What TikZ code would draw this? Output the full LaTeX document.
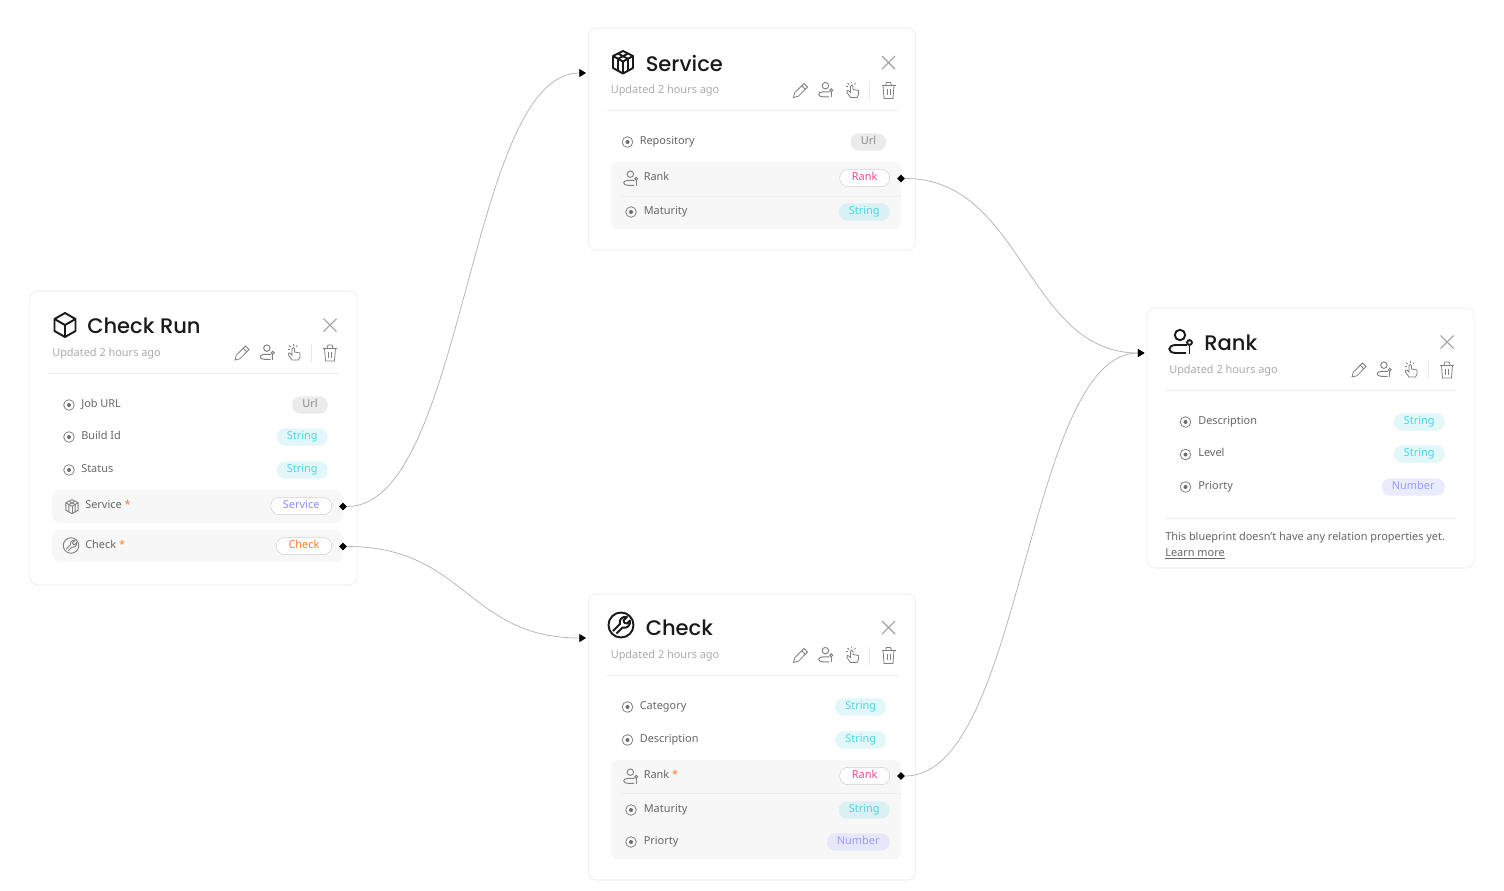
\documentclass[tikz,border=0pt]{standalone}
\usepackage{fontspec}
\setmainfont{Noto Sans}
\newfontfamily\titlefont{Poppins Medium}
\usetikzlibrary{shapes,arrows.meta,positioning}
\definecolor{cardedge}{HTML}{E8E8E8}
\definecolor{rowgrey}{HTML}{F7F7F7}
\definecolor{ruleline}{HTML}{EDEDED}
\definecolor{labelgrey}{HTML}{666666}
\definecolor{subgrey}{HTML}{ABABAB}
\definecolor{icongrey}{HTML}{808080}
\definecolor{closegrey}{HTML}{A0A0A0}
\definecolor{titleblack}{HTML}{1A1A1A}
\definecolor{curvegrey}{HTML}{B4B4B4}
\definecolor{stringfg}{HTML}{4DD6E4}
\definecolor{stringbg}{HTML}{E2F7FA}
\definecolor{stringdark}{HTML}{DAF1F3}
\definecolor{numberfg}{HTML}{9C9CFF}
\definecolor{numberbg}{HTML}{EBEBFE}
\definecolor{numberdark}{HTML}{E7E7FA}
\definecolor{urlfg}{HTML}{8A8A8A}
\definecolor{urlbg}{HTML}{EBEBEB}
\definecolor{rankfg}{HTML}{F0478F}
\definecolor{checkfg}{HTML}{FF7A2E}
\definecolor{servicefg}{HTML}{8C8CFF}
\tikzstyle{card} = [draw=cardedge, fill=white, rounded corners=6pt, minimum width=245.5pt, inner sep=0pt]
\tikzstyle{rowbg} = [fill=rowgrey, rounded corners=6pt, minimum width=218pt, inner sep=0pt]
\tikzstyle{proptext} = [anchor=west, inner sep=0pt, text=labelgrey, font=\fontsize{8.2}{10}\selectfont, text height=5.7pt, text depth=2.5pt]
\tikzstyle{pill} = [anchor=east, rounded corners=6.3pt, inner xsep=7.6pt, inner ysep=0pt, minimum height=13pt, font=\fontsize{8.2}{10}\selectfont, text height=5.7pt, text depth=2.5pt]
\tikzstyle{pillstring} = [pill, fill=stringbg, text=stringfg]
\tikzstyle{pillstringd} = [pill, fill=stringdark, text=stringfg]
\tikzstyle{pillnumber} = [pill, fill=numberbg, text=numberfg]
\tikzstyle{pillnumberd} = [pill, fill=numberdark, text=numberfg]
\tikzstyle{pillurl} = [pill, fill=urlbg, text=urlfg]
\tikzstyle{pillrel} = [pill, fill=white, draw=black!18, inner xsep=9.2pt]
\tikzstyle{port} = [diamond, fill=black, inner sep=0pt, minimum size=6pt]
\tikzstyle{line} = [draw=curvegrey, line width=0.55pt, -{Triangle[length=5pt,width=6pt,black]}]
\tikzstyle{rowicon} = [color=icongrey, scale=0.62, line width=0.7pt]
\tikzstyle{toolicon} = [color=icongrey, line width=0.6pt]
\tikzstyle{bigicon} = [color=titleblack, line width=1.45pt, line join=round]
\tikzstyle{hrule} = [draw=ruleline, line width=0.75pt]
\tikzset{
	pics/radio/.style={code={
		\draw [color=icongrey, line width=0.6pt] (0,0) circle (5.3);
		\fill [color=icongrey!85!black] (0,0) circle (2);
	}},
	pics/cube/.style={code={
		\draw (0,-12) -- (10.5,-6) -- (10.5,6) -- (0,12) -- (-10.5,6) -- (-10.5,-6) -- cycle;
		\draw (-10.5,-6) -- (0,0) -- (10.5,-6);
		\draw (0,0) -- (0,12);
	}},
	pics/boxes/.style={code={
		\draw (0,-11) -- (10,-6) -- (10,6) -- (0,11.5) -- (-10,6) -- (-10,-6) -- cycle;
		\draw (-10,-6) -- (0,-0.5) -- (10,-6);
		\draw (0,-0.5) -- (0,11.5);
		\draw (-5,-8.5) -- (5,-3.2) -- (5,8.8);
		\draw (5,-8.5) -- (-5,-3.2) -- (-5,8.8);
	}},
	pics/wrench/.style={code={
		\draw (0,0) circle (12.5);
		\draw (-8,6) -- (-1,-1) .. controls (-2.5,-5) and (1,-9) .. (6,-8) -- (2.5,-4.5) -- (3.5,-2) -- (6,-1.5) -- (9,-4.5) .. controls (10,0) and (6,4) .. (1.5,2.5) -- (-4.5,8.5);
	}},
	pics/personkey/.style={code={
		\draw (-1,-7) circle (5.2);
		\draw (6,3) -- (-5,3) .. controls (-14,3) and (-14,11) .. (-5,11) -- (5,11);
		\draw (8.5,0.5) circle (2.4);
		\draw (8.5,3) -- (8.5,11.5);
	}},
	pics/pencil/.style={code={
		\draw (-7,7) -- (-5.8,2.2) -- (3.5,-7) -- (7,-3.5) -- (-2.2,5.8) -- cycle;
		\draw (1.2,-4.8) -- (4.8,-1.2);
	}},
	pics/clickhand/.style={code={
		\draw (-1.5,8) -- (-5,3) .. controls (-6,1) and (-4,0) .. (-3,1.5) -- (-1.5,3) -- (-1.5,-3) .. controls (-1.5,-5) and (1,-5) .. (1,-3) -- (1,0) -- (6.5,1) -- (6.5,5) -- (5,8) -- cycle;
		\draw (-6,-3) -- (-4,-3);
		\draw (-4.5,-6.5) -- (-3,-5);
		\draw (-0.5,-8) -- (-0.5,-6.5);
		\draw (3.5,-6.5) -- (2.5,-5);
	}},
	pics/trash/.style={code={
		\draw (-7,-5) -- (7,-5);
		\draw (-3,-5) -- (-2,-8) -- (2,-8) -- (3,-5);
		\draw (-5.5,-5) -- (-4.5,8) -- (4.5,8) -- (5.5,-5);
		\draw (-1.5,-1.5) -- (-1.5,4.5);
		\draw (1.5,-1.5) -- (1.5,4.5);
	}},
	% head of a card, (0,0) is the top left corner of the card
	pics/cardhead/.style={code={
		\node [anchor=west, inner sep=0pt, text=titleblack, font=\titlefont\fontsize{15.8}{20}\selectfont] (title) at (57,34.5) {#1};
		\node [anchor=west, inner sep=0pt, text=subgrey, font=\fontsize{8.2}{10}\selectfont] (updated) at (22,62.5) {Updated 2 hours ago};
		\draw [color=closegrey, line width=0.8pt] (293.5,27.5) -- (306.5,40.5);
		\draw [color=closegrey, line width=0.8pt] (306.5,27.5) -- (293.5,40.5);
		\pic [toolicon] at (212,62) {pencil};
		\pic [rowicon] at (237.5,61.5) {personkey};
		\pic [toolicon] at (263.5,61) {clickhand};
		\draw [color=cardedge, line width=0.75pt] (281,53) -- (281,71);
		\pic [toolicon] at (300,62) {trash};
		\draw [hrule] (18,82) -- (309,82);
	}}
}
\begin{document}
\begin{tikzpicture}[x=0.75pt, y=-0.75pt]
	\useasboundingbox [fill=white] (0,0) rectangle (1504,890);

	% cards
	\node [card, minimum height=220.5pt] (checkrun) at (193.5,438) {};
	\node [card, minimum height=166.5pt] (service) at (752,139) {};
	\node [card, minimum height=214.5pt] (check) at (752,737) {};
	\node [card, minimum height=195pt] (rank) at (1310.5,438) {};

	\pic (runhead) at (30,291) {cardhead={Check Run}};
	\pic (svchead) at (588.5,28.5) {cardhead={Service}};
	\pic (chkhead) at (588.5,593.5) {cardhead={Check}};
	\pic (rnkhead) at (1147,308) {cardhead={Rank}};

	\pic [bigicon] at (65,325) {cube};
	\pic [bigicon] at (623,62) {boxes};
	\pic [bigicon] at (621,625) {wrench};
	\pic [bigicon] at (1181,342) {personkey};

	% Check Run rows
	\node [rowbg, minimum height=24.75pt] (runservicebg) at (197.5,506.5) {};
	\node [rowbg, minimum height=24pt] (runcheckbg) at (197.5,546) {};
	\pic at (69,405) {radio};
	\node [proptext] (joburl) at (81,405) {Job URL};
	\node [pillurl] (joburltype) at (328,405) {Url};
	\pic at (69,437) {radio};
	\node [proptext] (buildid) at (81,437) {Build Id};
	\node [pillstring] (buildidtype) at (328,437) {String};
	\pic at (69,470) {radio};
	\node [proptext] (status) at (81,470) {Status};
	\node [pillstring] (statustype) at (328,470) {String};
	\pic [rowicon] at (72,506.5) {boxes};
	\node [proptext] (runservice) at (85,506) {Service {\color{checkfg} *}};
	\node [pillrel, text=servicefg] (runservicetype) at (332,506) {Service};
	\pic [rowicon] at (71,545.5) {wrench};
	\node [proptext] (runcheck) at (85,546) {Check {\color{checkfg} *}};
	\node [pillrel, text=checkfg] (runchecktype) at (332,546) {Check};

	% Service rows
	\node [rowbg, minimum height=50.25pt] (svcbg) at (756,195.5) {};
	\draw [hrule] (621,196) -- (901,196);
	\pic at (627.5,142) {radio};
	\node [proptext] (repository) at (639.5,142) {Repository};
	\node [pillurl] (repositorytype) at (886.5,142) {Url};
	\pic [rowicon] at (631,178.5) {personkey};
	\node [proptext] (svcrank) at (643.5,178) {Rank};
	\node [pillrel, text=rankfg] (svcranktype) at (890,178) {Rank};
	\pic at (631,212) {radio};
	\node [proptext] (svcmaturity) at (643.5,212) {Maturity};
	\node [pillstringd] (svcmaturitytype) at (890,212) {String};

	% Check rows
	\node [rowbg, minimum height=74.25pt] (chkbg) at (756,809.5) {};
	\draw [hrule] (621,793) -- (901,793);
	\pic at (627.5,707) {radio};
	\node [proptext] (category) at (639.5,707) {Category};
	\node [pillstring] (categorytype) at (886.5,707) {String};
	\pic at (627.5,740) {radio};
	\node [proptext] (chkdescription) at (639.5,740) {Description};
	\node [pillstring] (chkdescriptiontype) at (886.5,740) {String};
	\pic [rowicon] at (631,776.5) {personkey};
	\node [proptext] (chkrank) at (643.5,776) {Rank {\color{checkfg} *}};
	\node [pillrel, text=rankfg] (chkranktype) at (890,776) {Rank};
	\pic at (631,810) {radio};
	\node [proptext] (chkmaturity) at (643.5,810) {Maturity};
	\node [pillstringd] (chkmaturitytype) at (890,810) {String};
	\pic at (631,842) {radio};
	\node [proptext] (chkpriorty) at (643.5,842) {Priorty};
	\node [pillnumberd] (chkpriortytype) at (890,842) {Number};

	% Rank rows
	\pic at (1185.5,422) {radio};
	\node [proptext] (rnkdescription) at (1198,422) {Description};
	\node [pillstring] (rnkdescriptiontype) at (1445,422) {String};
	\pic at (1185.5,454.5) {radio};
	\node [proptext] (level) at (1198,454) {Level};
	\node [pillstring] (leveltype) at (1445,454) {String};
	\pic at (1185.5,487) {radio};
	\node [proptext] (rnkpriorty) at (1198,487) {Priorty};
	\node [pillnumber] (rnkpriortytype) at (1445,487) {Number};
	\draw [hrule] (1165,518.5) -- (1456,518.5);
	\node [proptext] (noprops) at (1165,538) {This blueprint doesn't have any relation properties yet.};
	\node [proptext] (learnmore) at (1165,554) {\underline{Learn more}};

	% ports and connector ends
	\node [port] (runserviceport) at (343,506.5) {};
	\node [port] (runcheckport) at (343,546.5) {};
	\node [port] (svcrankport) at (901,178.5) {};
	\node [port] (chkrankport) at (901,776) {};
	\coordinate (svcin) at (586,73);
	\coordinate (chkin) at (586,638);
	\coordinate (rnkin) at (1144.5,353);

	\path [line] (runserviceport.east) .. controls +(118,0) and +(-118,0) .. (svcin);
	\path [line] (runcheckport.east) .. controls +(118,0) and +(-118,0) .. (chkin);
	\path [line] (svcrankport.east) .. controls +(118,0) and +(-118,0) .. (rnkin);
	\path [line] (chkrankport.east) .. controls +(118,0) and +(-118,0) .. (rnkin);
\end{tikzpicture}
\end{document}
